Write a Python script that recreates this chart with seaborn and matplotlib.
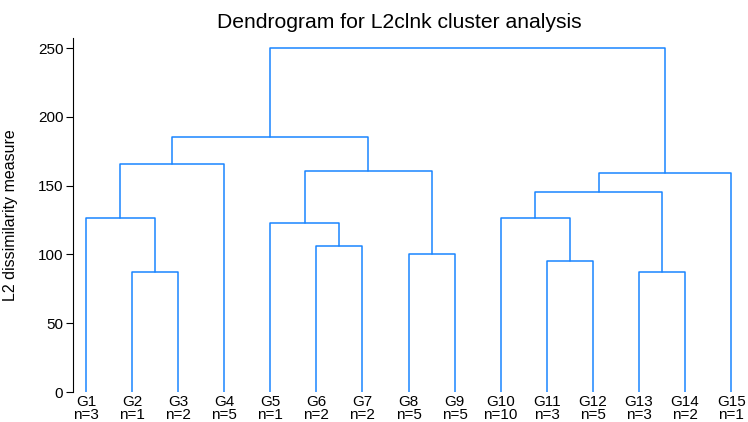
import matplotlib
matplotlib.use("Agg")
import matplotlib.pyplot as plt
import seaborn as sns
import pandas as pd

# leaves in dendrogram order, with group sizes
leaves = ["G1", "G2", "G3", "G4", "G5", "G6", "G7", "G8",
          "G9", "G10", "G11", "G12", "G13", "G14", "G15"]
counts = [3, 1, 2, 5, 1, 2, 2, 5, 5, 10, 3, 5, 3, 2, 1]

# merges: new node name, left child, right child, dissimilarity
merge_names = ["C1", "C2", "C3", "C4", "C5", "C6", "C7",
               "C8", "C9", "C10", "C11", "C12", "C13", "C14"]
merge_left = ["G2", "G1", "C2", "G6", "G5", "G8", "C5",
              "C3", "G11", "G10", "G13", "C10", "C12", "C8"]
merge_right = ["G3", "C1", "G4", "G7", "C4", "G9", "C6",
               "C7", "G12", "C9", "G14", "C11", "G15", "C13"]
merge_height = [87.5, 126.5, 165.7, 106.0, 122.8, 100.5, 160.8,
                185.3, 95.5, 126.8, 87.0, 145.3, 159.3, 250.0]

line_color = "#1a85ff"

sns.set_style("ticks", {"text.color": "black", "axes.labelcolor": "black",
                        "xtick.color": "black", "ytick.color": "black",
                        "axes.edgecolor": "black"})
plt.rcParams["font.family"] = ["Liberation Sans", "DejaVu Sans"]

# positions of every node
pos_x = {name: i + 1 for i, name in enumerate(leaves)}
pos_y = {name: 0.0 for name in leaves}
rows = []
for k, name in enumerate(merge_names):
    a, b, h = merge_left[k], merge_right[k], merge_height[k]
    xs = [pos_x[a], pos_x[a], pos_x[b], pos_x[b]]
    ys = [pos_y[a], h, h, pos_y[b]]
    for j in range(4):
        rows.append({"link": name, "order": j, "x": xs[j], "y": ys[j]})
    pos_x[name] = (pos_x[a] + pos_x[b]) / 2
    pos_y[name] = h
segs = pd.DataFrame(rows)

fig = plt.figure(figsize=(7.48, 4.22), dpi=100)
ax = fig.add_axes([73 / 748, 1 - 392 / 422, (745 - 73) / 748, (392 - 38) / 422])

sns.lineplot(data=segs, x="x", y="y", units="link", estimator=None, sort=False,
             color=line_color, linewidth=1.1, ax=ax)

ax.set_xlim(0.72, 15.3)
ax.set_ylim(0, 257.3)
ax.set_yticks([0, 50, 100, 150, 200, 250])
ax.set_xticks(range(1, len(leaves) + 1))
ax.set_xticklabels([f"{g}\nn={n}" for g, n in zip(leaves, counts)], linespacing=0.95)
ax.tick_params(axis="x", length=0, pad=2, labelsize=11)
ax.tick_params(axis="y", length=5, width=0.8, pad=2, labelsize=11, rotation=0)
for s in ["top", "right", "bottom"]:
    ax.spines[s].set_visible(False)
ax.spines["left"].set_linewidth(0.8)
ax.set_xlabel("")
ax.set_ylabel("L2 dissimilarity measure", fontsize=11.5)
ax.yaxis.set_label_coords((18 - 73) / 672, 0.5)

fig.text(399 / 748, 1 - 22 / 422, "Dendrogram for L2clnk cluster analysis",
         ha="center", va="center", fontsize=15.2, color="black")

fig.savefig("out.png", dpi=100)
